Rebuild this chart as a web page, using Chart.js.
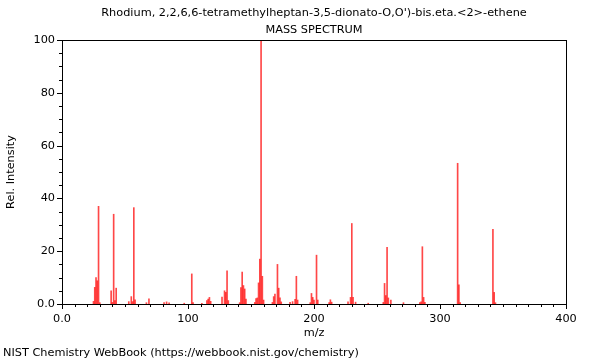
<!DOCTYPE html>
<html lang="en">
<head>
<meta charset="UTF-8">
<title>Mass spectrum</title>
<script src="https://cdn.jsdelivr.net/npm/chart.js"></script>
<style>
    body { margin: 0; background: #fff; }
    .box { position: relative; width: 600px; height: 360px; }
    .rodape {
        position: absolute; left: 3px; top: 346px;
        font: 11.3px "DejaVu Sans", sans-serif; color: #000;
    }
</style>
</head>
<body>
<div class="box">
    <canvas id="espectro" width="600" height="360"></canvas>
    <div class="rodape">NIST Chemistry WebBook (https://webbook.nist.gov/chemistry)</div>
</div>
<script>
    // picos: m/z e intensidade relativa (%)
    var mz = [25, 26, 27, 28, 29, 30,
        39, 40, 41, 42, 43,
        53, 55, 56, 57, 58, 67, 69,
        81, 83, 85, 97, 103, 104,
        111, 115, 116, 117, 118,
        127, 129, 130, 131, 132,
        141, 142, 143, 144, 145, 146,
        153, 154, 155, 156, 157, 158, 159, 160,
        167, 168, 169, 171, 172, 173, 174,
        181, 183, 185, 186, 187,
        197, 198, 199, 200, 202, 203,
        212, 213, 214,
        227, 229, 230, 231, 233, 243,
        255, 256, 257, 258, 259, 261, 271,
        284, 285, 286, 287, 288,
        314, 315, 316,
        342, 343, 344];
    var intensidade = [1, 6.3, 10, 8.8, 37, 0.5,
        5, 0.6, 34, 1.3, 6,
        0.9, 2.8, 0.9, 36.5, 1.6, 0.5, 2,
        0.5, 0.8, 0.4, 0.3, 11.4, 0.5,
        0.3, 1.3, 1.9, 2.5, 1,
        2.6, 5, 4.4, 12.6, 1.3,
        0.5, 6.2, 12.1, 7, 5.7, 1.9,
        0.6, 2.1, 2.3, 8, 17, 100, 10.5, 1.5,
        0.6, 2.8, 3.8, 15, 6, 2.3, 0.8,
        0.6, 0.9, 1.8, 10.5, 1.5,
        0.5, 4, 2.5, 1.5, 18.5, 1.5,
        0.5, 1.6, 0.7,
        0.8, 2.5, 30.5, 2.5, 0.7, 0.3,
        0.6, 7.8, 3.2, 21.5, 2.3, 1.5, 0.5,
        0.5, 0.8, 21.7, 2.5, 0.6,
        53.3, 7.3, 0.5,
        28.3, 4.4, 0.5];
    var ticksX = [0, 100, 200, 300, 400];
    var ticksY = [0, 20, 40, 60, 80, 100];
    var titulos = ["Rhodium, 2,2,6,6-tetramethylheptan-3,5-dionato-O,O')-bis.eta.<2>-ethene", 'MASS SPECTRUM'];

    var fonte = { family: "'DejaVu Sans', sans-serif", size: 11.3 };

    // moldura, tiques (maiores e menores) e títulos centrados na área do gráfico
    var moldura = {
        id: 'moldura',
        afterDraw: function (chart) {
            var c = chart.ctx, a = chart.chartArea;
            var sx = chart.scales.x, sy = chart.scales.y;
            c.save();
            c.strokeStyle = '#000';
            c.lineWidth = 1;
            c.strokeRect(Math.round(a.left) + 0.5, Math.round(a.top) + 0.5,
                Math.round(a.right - a.left), Math.round(a.bottom - a.top));
            c.beginPath();
            for (var v = 0; v <= 400; v += 10) {
                var px = Math.round(sx.getPixelForValue(v)) + 0.5;
                var len = (v % 100 === 0) ? 5 : 3;
                c.moveTo(px, a.bottom);
                c.lineTo(px, a.bottom + len);
            }
            for (var w = 0; w <= 100; w += 5) {
                var py = Math.round(sy.getPixelForValue(w)) + 0.5;
                var l2 = (w % 20 === 0) ? 5 : 3;
                c.moveTo(a.left, py);
                c.lineTo(a.left - l2, py);
            }
            c.stroke();

            c.fillStyle = '#000';
            c.font = fonte.size + 'px ' + fonte.family;
            c.textAlign = 'center';
            c.textBaseline = 'middle';
            var meio = (a.left + a.right) / 2;
            c.fillText(titulos[0], meio, 13);
            c.fillText(titulos[1], meio, 30);
            c.restore();
        }
    };

    var ctx = document.getElementById('espectro').getContext('2d');
    var grafico = new Chart(ctx, {
        type: 'bar',
        data: {
            labels: mz,
            datasets: [{
                label: 'Rel. Intensity',
                data: intensidade,
                backgroundColor: 'rgba(255, 0, 0, 0.72)',
                borderWidth: 0,
                barThickness: 1
            }]
        },
        options: {
            responsive: false,
            animation: false,
            layout: { padding: { left: 0, right: 34, top: 40, bottom: 19 } },
            plugins: {
                legend: { display: false },
                tooltip: { enabled: false },
                title: { display: false }
            },
            scales: {
                x: {
                    type: 'linear',
                    min: 0,
                    max: 400,
                    offset: false,
                    afterFit: function (s) { s.height = 37; },
                    afterBuildTicks: function (s) { s.ticks = ticksX.map(function (v) { return { value: v }; }); },
                    grid: { display: false, drawTicks: false },
                    border: { display: false },
                    ticks: {
                        padding: 8,
                        color: '#000',
                        font: fonte,
                        maxRotation: 0,
                        callback: function (v) { return v === 0 ? '0.0' : String(v); }
                    },
                    title: { display: true, text: 'm/z', color: '#000', font: fonte, padding: { top: 0, bottom: 1 } }
                },
                y: {
                    min: 0,
                    max: 100,
                    afterFit: function (s) { s.width = 62; },
                    afterBuildTicks: function (s) { s.ticks = ticksY.map(function (v) { return { value: v }; }); },
                    grid: { display: false, drawTicks: false },
                    border: { display: false },
                    ticks: {
                        padding: 7,
                        color: '#000',
                        font: fonte,
                        callback: function (v) { return v === 0 ? '0.0' : String(v); }
                    },
                    title: { display: true, text: 'Rel. Intensity', color: '#000', font: fonte, padding: { top: 4, bottom: 0 } }
                }
            }
        },
        plugins: [moldura]
    });
</script>
</body>
</html>
